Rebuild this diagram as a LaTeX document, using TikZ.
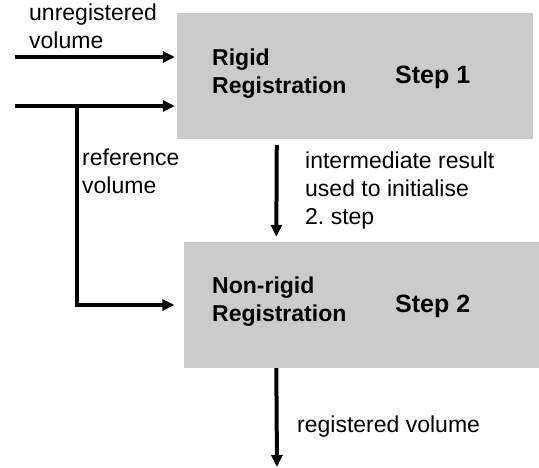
\documentclass[tikz,border=0pt]{standalone}
\usepackage{fontspec}
\setmainfont{Liberation Sans}
\usetikzlibrary{arrows.meta}
\definecolor{boxgray}{HTML}{CBCBCB}
\tikzset{
  stepbox/.style={draw=none, fill=boxgray, minimum width=356pt, minimum height=126pt, inner sep=0pt},
  lbl/.style={anchor=base west, align=left, inner sep=0pt, font=\fontsize{23}{28}\selectfont},
  blbl/.style={lbl, font=\fontsize{23}{28}\selectfont\bfseries},
  slbl/.style={lbl, font=\fontsize{25}{28}\selectfont\bfseries},
  arr/.style={line width=4pt, -{Triangle[length=12pt, width=11pt]}}
}
\frenchspacing
\begin{document}
\begin{tikzpicture}[x=1pt, y=-1pt]
\useasboundingbox (0,0) rectangle (539,467);
\node[stepbox] (box1) at (355,76) {};
\node[stepbox] (box2) at (361.5,305) {};
\node[blbl] (t1) at (212,93) {Rigid\\Registration};
\node[slbl] (s1) at (395,83) {Step 1};
\node[blbl] (t2) at (212,321) {Non-rigid\\Registration};
\node[slbl] (s2) at (395,312) {Step 2};
\node[lbl] (lu) at (29,48) {unregistered\\volume};
\node[lbl] (lr) at (82,193) {reference\\volume};
\node[lbl] (li) at (305,224) {intermediate result\\used to initialise\\2. step};
\node[lbl] (lo) at (297,432) {registered volume};
\coordinate (in1) at (15,57);
\coordinate (in2) at (15,106);
\coordinate (br) at (77,106);
\coordinate (out) at (277,467);
\draw[arr, shorten >=2pt] (in1) -- (in1 -| box1.west);
\draw[arr, shorten >=2pt] (in2) -- (in2 -| box1.west);
\draw[arr, shorten >=9pt] (br) |- (box2.west);
\draw[arr, shorten <=6pt, shorten >=5pt] ([xshift=100pt]box1.south west) -- ([xshift=93pt]box2.north west);
\draw[arr] ([xshift=93pt]box2.south west) -- (out);
\end{tikzpicture}
\end{document}
